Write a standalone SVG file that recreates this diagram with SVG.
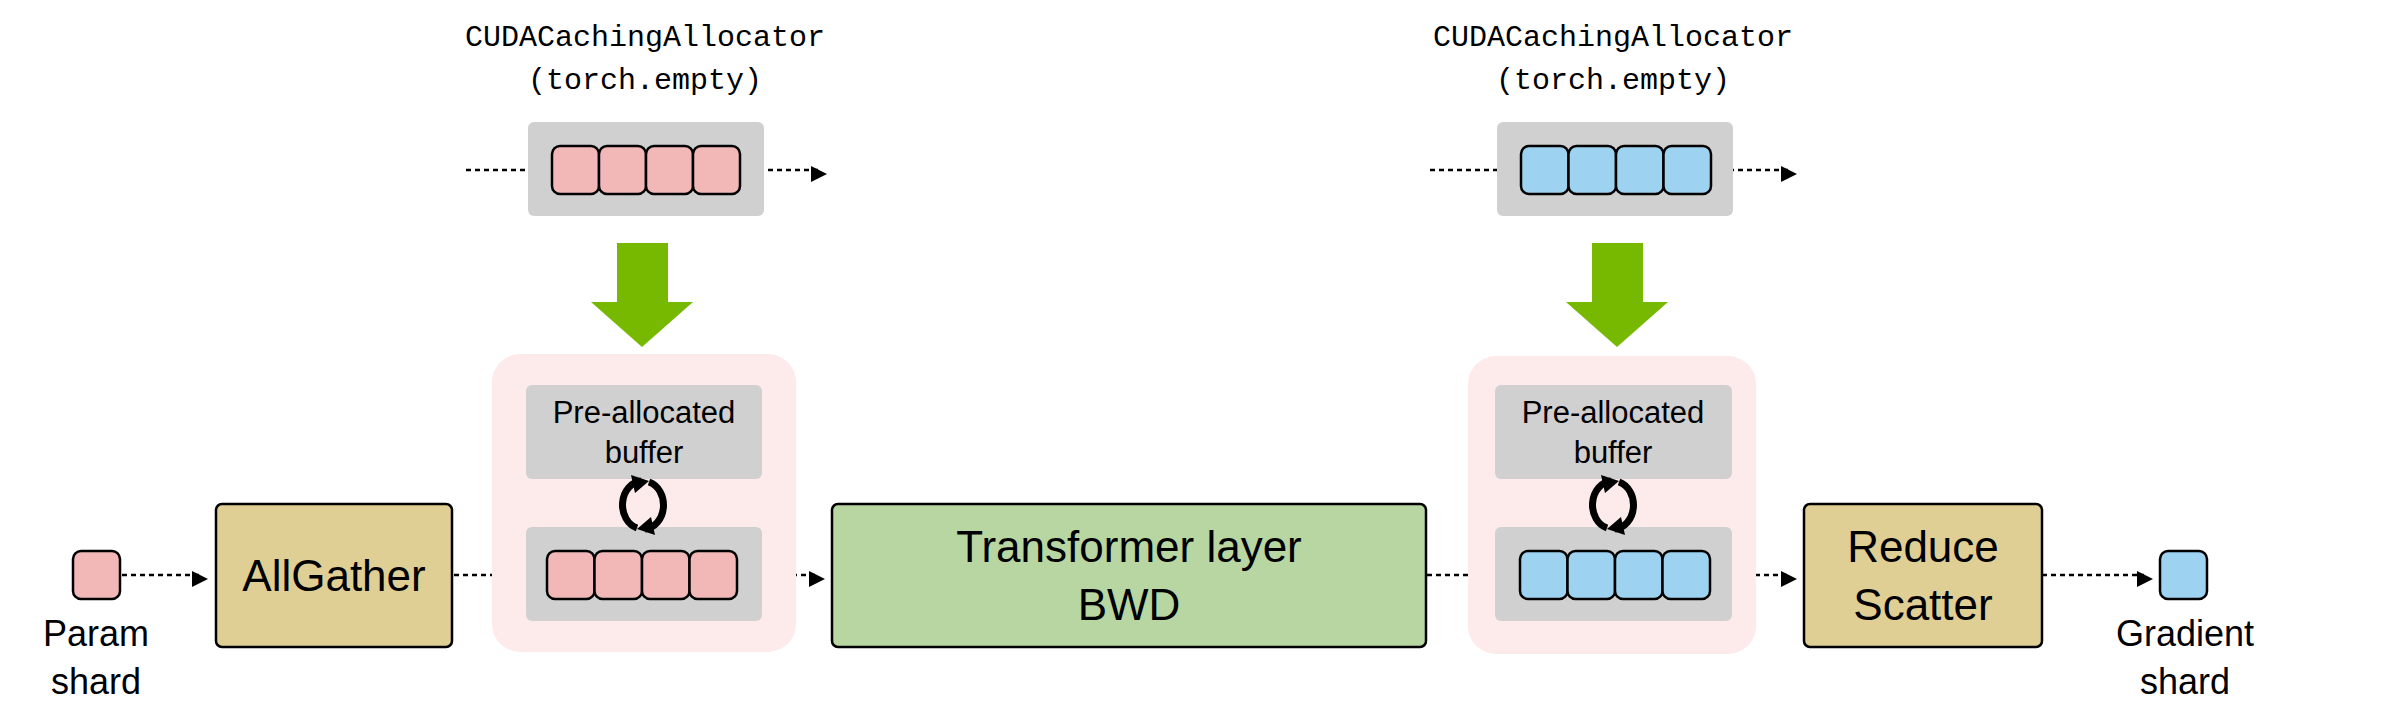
<svg xmlns="http://www.w3.org/2000/svg" width="2400" height="717" viewBox="0 0 2400 717">
<defs>
<style>
.mono{font-family:"Liberation Mono","DejaVu Sans Mono",monospace;font-size:30px;fill:#000;text-anchor:middle}
.sans{font-family:"Liberation Sans",Arial,sans-serif;fill:#000;text-anchor:middle}
.grey{fill:#d0d0d0}
.pc{fill:#f2b8b8;stroke:#000;stroke-width:2.5}
.bc{fill:#9dd3f0;stroke:#000;stroke-width:2.5}
.cont{fill:#fdeaea}
.dash{stroke:#000;stroke-width:2.5;stroke-dasharray:5 4;fill:none;marker-end:url(#ah)}
.ga{fill:#76b900}
.ref{fill:none;stroke:#000;stroke-width:7}
</style>
<marker id="ah" markerWidth="8" markerHeight="8" refX="7" refY="4" orient="auto" markerUnits="userSpaceOnUse" viewBox="0 0 8 8" style="overflow:visible">
<path d="M0,0 L8,4 L0,8 z" transform="scale(2)" fill="#000"/>
</marker>
<marker id="rh" markerWidth="6" markerHeight="6" refX="2" refY="3" orient="auto" viewBox="0 0 6 6" markerUnits="userSpaceOnUse"><path d="M0,-5 L14,3 L0,11 z" fill="#000"/></marker>
</defs>

<g id="connectors">
<line class="dash" x1="466" y1="170" x2="535" y2="170"/>
<line class="dash" x1="741" y1="170" x2="818" y2="170"/>
<line class="dash" x1="1430" y1="170" x2="1505" y2="170"/>
<line class="dash" x1="1711" y1="170" x2="1788" y2="170"/>
<line class="dash" x1="122" y1="575" x2="199" y2="575"/>
<line class="dash" x1="454" y1="575" x2="531" y2="575"/>
<line class="dash" x1="738" y1="575" x2="816" y2="575"/>
<line class="dash" x1="1427" y1="575" x2="1503" y2="575"/>
<line class="dash" x1="1710" y1="575" x2="1788" y2="575"/>
<line class="dash" x1="2042" y1="575" x2="2144" y2="575"/>
</g>

<g id="alloc1">
<text class="mono" x="645" y="46">CUDACachingAllocator</text>
<text class="mono" x="645" y="89">(torch.empty)</text>
<rect class="grey" x="528" y="122" width="236" height="94" rx="6"/>
<rect class="pc" x="552" y="146" width="47" height="48" rx="8"/>
<rect class="pc" x="599" y="146" width="47" height="48" rx="8"/>
<rect class="pc" x="646" y="146" width="47" height="48" rx="8"/>
<rect class="pc" x="693" y="146" width="47" height="48" rx="8"/>
</g>
<g id="garrow1"><path class="ga" d="M617,243 H668 V302 H693 L642,347 L591,302 H617 Z"/></g>
<g id="buf1">
<rect class="cont" x="492" y="354" width="304" height="298" rx="28"/>
<rect class="grey" x="526" y="385" width="236" height="94" rx="6"/>
<text class="sans" font-size="31" x="644" y="423">Pre-allocated</text>
<text class="sans" font-size="31" x="644" y="463">buffer</text>
<rect class="grey" x="526" y="527" width="236" height="94" rx="6"/>
<rect class="pc" x="547" y="551" width="47.5" height="48" rx="8"/>
<rect class="pc" x="594.5" y="551" width="47.5" height="48" rx="8"/>
<rect class="pc" x="642" y="551" width="47.5" height="48" rx="8"/>
<rect class="pc" x="689.5" y="551" width="47.5" height="48" rx="8"/>
<g transform="translate(643,505)">
<path class="ref" d="M-2,-24 A20,24 0 0 0 -6,23"/><path d="M-12,-30 L6,-24 L-8,-12 Z" fill="#000"/>
<path class="ref" d="M2,24 A20,24 0 0 0 6,-23"/><path d="M12,30 L-6,24 L8,12 Z" fill="#000"/>
</g>
</g>

<g id="param">
<rect class="pc" x="73" y="551" width="47" height="48" rx="8"/>
<text class="sans" font-size="36" x="96" y="646">Param</text>
<text class="sans" font-size="36" x="96" y="694">shard</text>
</g>
<g id="allgather">
<rect x="216" y="504" width="236" height="143" rx="6" fill="#e0cf94" stroke="#000" stroke-width="2.5"/>
<text class="sans" font-size="44" x="334" y="591">AllGather</text>
</g>
<g id="transformer">
<rect x="832" y="504" width="594" height="143" rx="6" fill="#b8d6a2" stroke="#000" stroke-width="2.5"/>
<text class="sans" font-size="44" x="1129" y="562">Transformer layer</text>
<text class="sans" font-size="44" x="1129" y="620">BWD</text>
</g>

<g id="alloc2">
<text class="mono" x="1613" y="46">CUDACachingAllocator</text>
<text class="mono" x="1613" y="89">(torch.empty)</text>
<rect class="grey" x="1497" y="122" width="236" height="94" rx="6"/>
<rect class="bc" x="1521" y="146" width="47.5" height="48" rx="8"/>
<rect class="bc" x="1568.5" y="146" width="47.5" height="48" rx="8"/>
<rect class="bc" x="1616" y="146" width="47.5" height="48" rx="8"/>
<rect class="bc" x="1663.5" y="146" width="47.5" height="48" rx="8"/>
</g>
<g id="garrow2"><path class="ga" d="M1592,243 H1643 V302 H1668 L1617,347 L1566,302 H1592 Z"/></g>
<g id="buf2">
<rect class="cont" x="1468" y="356" width="288" height="298" rx="28"/>
<rect class="grey" x="1495" y="385" width="237" height="94" rx="6"/>
<text class="sans" font-size="31" x="1613" y="423">Pre-allocated</text>
<text class="sans" font-size="31" x="1613" y="463">buffer</text>
<rect class="grey" x="1495" y="527" width="237" height="94" rx="6"/>
<rect class="bc" x="1520" y="551" width="47.5" height="48" rx="8"/>
<rect class="bc" x="1567.5" y="551" width="47.5" height="48" rx="8"/>
<rect class="bc" x="1615" y="551" width="47.5" height="48" rx="8"/>
<rect class="bc" x="1662.5" y="551" width="47.5" height="48" rx="8"/>
<g transform="translate(1613,505)">
<path class="ref" d="M-2,-24 A20,24 0 0 0 -6,23"/><path d="M-12,-30 L6,-24 L-8,-12 Z" fill="#000"/>
<path class="ref" d="M2,24 A20,24 0 0 0 6,-23"/><path d="M12,30 L-6,24 L8,12 Z" fill="#000"/>
</g>
</g>
<g id="reduce">
<rect x="1804" y="504" width="238" height="143" rx="6" fill="#e0cf94" stroke="#000" stroke-width="2.5"/>
<text class="sans" font-size="44" x="1923" y="562">Reduce</text>
<text class="sans" font-size="44" x="1923" y="620">Scatter</text>
</g>
<g id="gradient">
<rect class="bc" x="2160" y="551" width="47" height="48" rx="8"/>
<text class="sans" font-size="36" x="2185" y="646">Gradient</text>
<text class="sans" font-size="36" x="2185" y="694">shard</text>
</g>
</svg>
